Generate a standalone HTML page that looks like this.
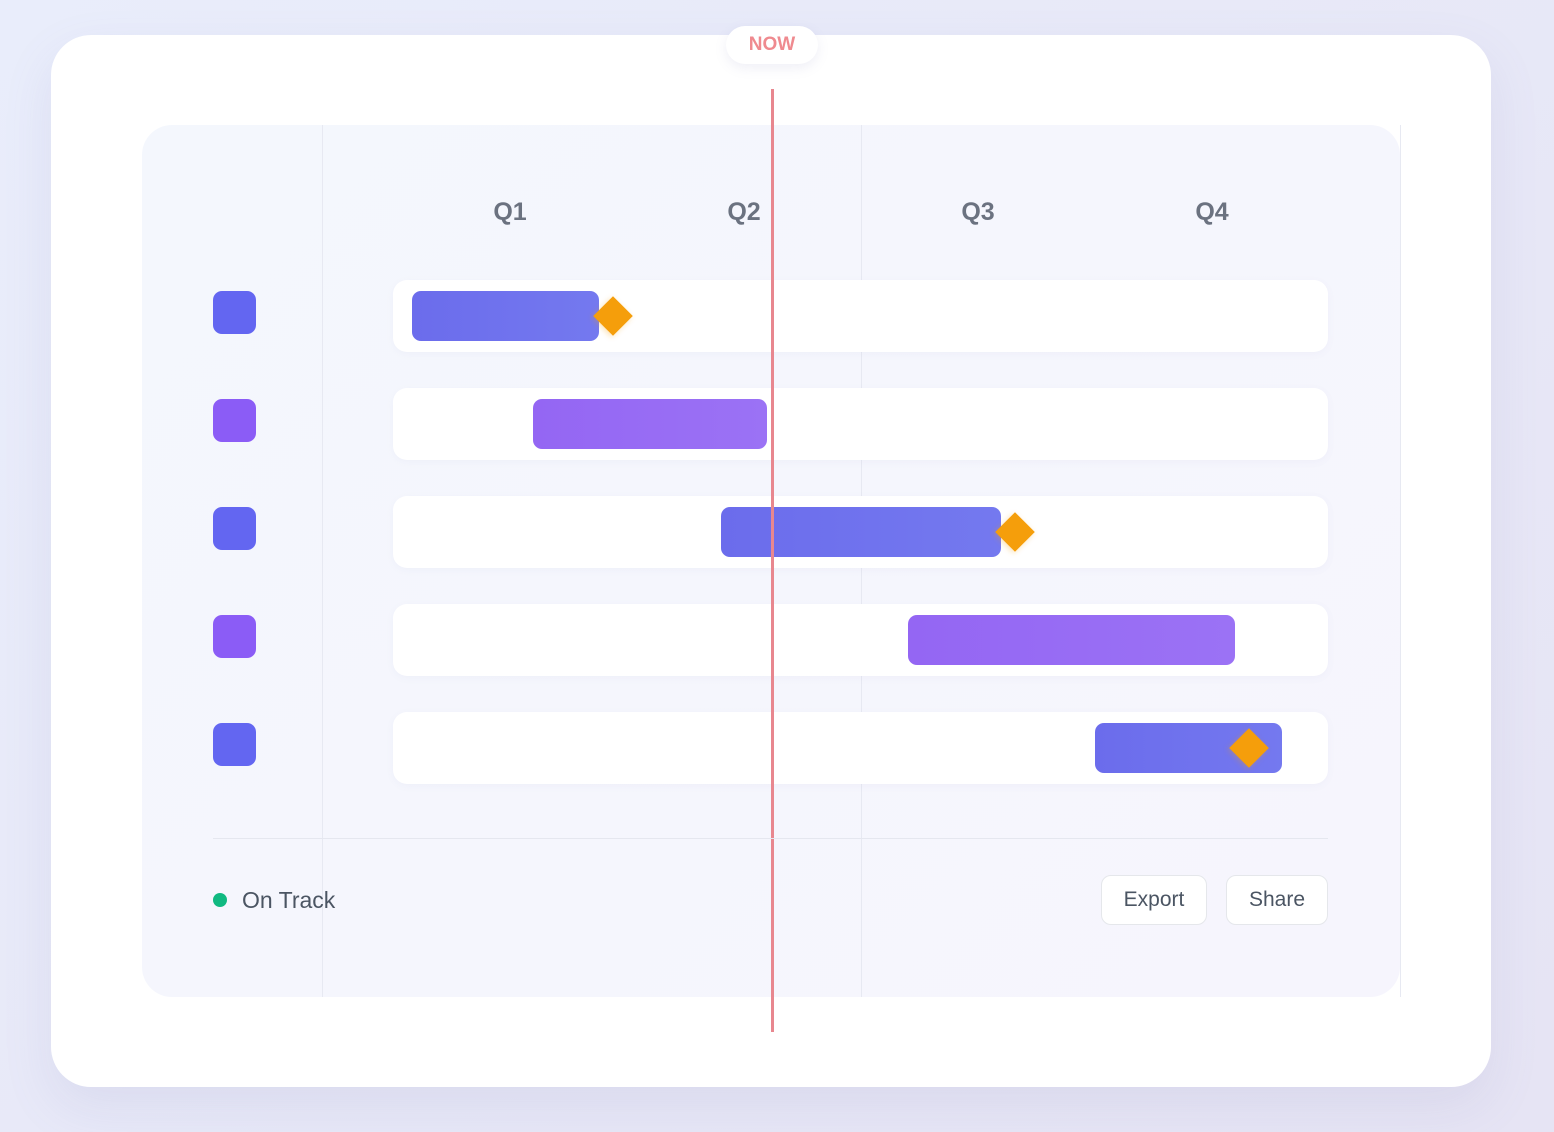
<!DOCTYPE html>
<html><head><style>
*{margin:0;padding:0;box-sizing:border-box}
body{width:1554px;height:1132px;background:linear-gradient(135deg,#e9edfb,#e6e4f4);font-family:"Liberation Sans",sans-serif;position:relative;overflow:hidden}
.a{position:absolute}
.card{left:51px;top:35px;width:1440px;height:1052px;background:#fff;border-radius:40px;box-shadow:0 20px 50px rgba(120,120,180,.12)}
.panel{left:142px;top:125px;width:1258px;height:872px;background:linear-gradient(135deg,#f4f7fd,#f6f5fd);border-radius:30px}
.vl{width:1px;top:125px;height:872px;background:#e7e9f2}
.q{top:198px;font-size:25px;font-weight:bold;color:#6b7280;width:80px;text-align:center}
.track{left:393px;width:935px;height:72px;background:#fff;border-radius:14px;box-shadow:0 2px 8px rgba(120,120,180,.05)}
.bar{height:50px;border-radius:9px}
.b{background:linear-gradient(90deg,#6b6cec,#7479ef)}
.p{background:linear-gradient(90deg,#9466f3,#9b72f5)}
.sq{left:213px;width:43px;height:43px;border-radius:9px}
.d{width:28px;height:28px;background:#f59e0b;transform:rotate(45deg);box-shadow:0 2px 6px rgba(245,158,11,.3)}
.btn{top:875px;height:50px;background:#fff;border:1px solid #e5e7eb;border-radius:10px;font-size:21px;color:#4b5563;text-align:center;line-height:48px}
</style></head><body>
<div class="a card"></div>
<div class="a panel"></div>
<div class="a vl" style="left:322px"></div>
<div class="a vl" style="left:861px"></div>
<div class="a vl" style="left:1400px"></div>
<div class="a q" style="left:470px">Q1</div>
<div class="a q" style="left:704px">Q2</div>
<div class="a q" style="left:938px">Q3</div>
<div class="a q" style="left:1172px">Q4</div>

<div class="a track" style="top:280px"></div>
<div class="a track" style="top:388px"></div>
<div class="a track" style="top:496px"></div>
<div class="a track" style="top:604px"></div>
<div class="a track" style="top:712px"></div>

<div class="a sq" style="top:291px;background:#6366f1"></div>
<div class="a sq" style="top:399px;background:#8b5cf6"></div>
<div class="a sq" style="top:507px;background:#6366f1"></div>
<div class="a sq" style="top:615px;background:#8b5cf6"></div>
<div class="a sq" style="top:723px;background:#6366f1"></div>

<div class="a bar b" style="left:412px;top:291px;width:187px"></div>
<div class="a bar p" style="left:533px;top:399px;width:234px"></div>
<div class="a bar b" style="left:721px;top:507px;width:280px"></div>
<div class="a bar p" style="left:908px;top:615px;width:327px"></div>
<div class="a bar b" style="left:1095px;top:723px;width:187px"></div>

<div class="a d" style="left:599px;top:302px"></div>
<div class="a d" style="left:1001px;top:518px"></div>
<div class="a d" style="left:1235px;top:734px"></div>

<div class="a" style="left:771px;top:89px;width:3px;height:943px;background:#e8878f"></div>
<div class="a" style="left:726px;top:26px;width:92px;height:38px;background:#fff;border-radius:19px;box-shadow:0 4px 12px rgba(120,120,180,.12);color:#ef8a8f;font-size:19px;font-weight:bold;text-align:center;line-height:38px">NOW</div>

<div class="a" style="left:213px;top:838px;width:1115px;height:1px;background:#e5e7ef"></div>
<div class="a" style="left:213px;top:893px;width:14px;height:14px;border-radius:50%;background:#10b981"></div>
<div class="a" style="left:242px;top:887px;font-size:23px;color:#4b5563">On Track</div>
<div class="a btn" style="left:1101px;width:106px">Export</div>
<div class="a btn" style="left:1226px;width:102px">Share</div>
</body></html>
